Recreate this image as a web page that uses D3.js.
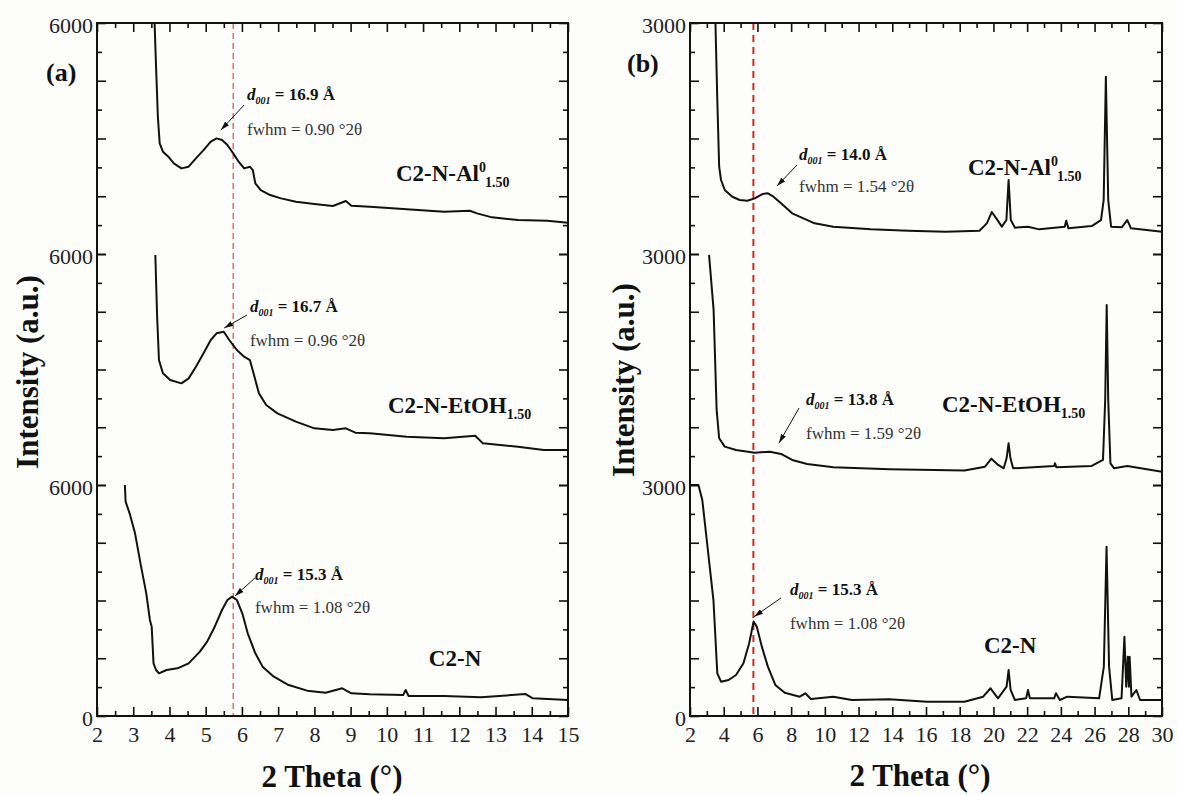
<!DOCTYPE html>
<html>
<head>
<meta charset="utf-8">
<script src="https://cdnjs.cloudflare.com/ajax/libs/d3/7.8.5/d3.min.js"></script>
<style>
  body { margin: 0; background: #fdfdfc; }
  svg { display: block; font-family: "Liberation Serif", "Times New Roman", serif; }
  .tick text { font-family: "Liberation Serif", "Times New Roman", serif; }
</style>
</head>
<body>
<svg id="chart" width="1177" height="795"></svg>
<script>
// XRD patterns, [2theta, intensity]

// panel (a), 2-15 deg, each trace on its own 0-6000 band
var aAl = [[3.56,6300],[3.59,5990],[3.63,4865],[3.68,3566],[3.73,2873],[3.82,2657],[3.97,2527],[4.12,2354],
  [4.33,2224],[4.53,2268],[4.73,2484],[4.94,2700],[5.14,2917],[5.30,3003],[5.45,2960],[5.60,2830],[5.76,2614],
  [5.91,2397],[6.06,2224],[6.22,2268],[6.30,2181],[6.37,1835],[6.52,1661],[6.78,1532],[7.08,1445],[7.49,1358],
  [8.00,1298],[8.51,1246],[8.87,1376],[9.02,1255],[9.53,1229],[10.55,1160],[11.58,1099],[12.29,1125],[12.49,1056],
  [12.90,952],[13.62,882],[14.43,865],[15.0,813]];
var aEtoh = [[3.61,5973],[3.66,4372],[3.71,3246],[3.82,2900],[4.02,2727],[4.33,2640],[4.53,2770],[4.73,3073],
  [4.94,3419],[5.14,3766],[5.30,3939],[5.50,3982],[5.65,3766],[5.86,3506],[6.06,3333],[6.22,3246],[6.32,2900],
  [6.47,2380],[6.67,2077],[6.98,1861],[7.49,1645],[8.00,1471],[8.51,1428],[8.87,1471],[9.13,1359],[9.53,1342],
  [10.55,1255],[11.58,1212],[12.44,1281],[12.65,1082],[13.62,995],[14.33,909],[15.0,909]];
var aC2n = [[2.77,6000],[2.79,5567],[2.90,5264],[3.05,4744],[3.20,3965],[3.36,3186],[3.46,2494],[3.51,2320],
  [3.56,1368],[3.63,1195],[3.71,1108],[3.92,1195],[4.22,1238],[4.53,1368],[4.84,1671],[5.04,1931],[5.25,2320],
  [5.45,2753],[5.60,3013],[5.73,3100],[5.86,3013],[6.01,2667],[6.16,2147],[6.37,1628],[6.57,1282],[6.88,1022],
  [7.29,805],[7.80,658],[8.31,606],[8.77,719],[9.02,589],[9.53,563],[10.45,546],[10.52,676],[10.60,520],
  [11.58,520],[12.60,485],[13.82,572],[14.03,459],[15.0,416]];

// panel (b), 2-30 deg, each trace on its own 0-3000 band
var bAl = [[3.48,3200],[3.51,2996],[3.62,1998],[3.73,1134],[3.84,961],[4.06,831],[4.51,744],[4.95,701],[5.40,692],
  [5.84,723],[6.29,779],[6.62,788],[6.95,744],[7.40,658],[8.06,528],[8.73,463],[9.39,398],[10.50,355],[12.73,320],
  [14.95,303],[17.17,290],[19.17,303],[19.61,398],[19.90,545],[20.17,463],[20.50,355],[20.77,441],[20.90,961],
  [21.03,441],[21.28,342],[22.05,355],[22.72,320],[24.23,355],[24.32,433],[24.45,333],[25.83,363],[26.38,441],
  [26.54,701],[26.67,2303],[26.81,701],[26.98,355],[27.61,346],[27.94,441],[28.16,333],[30,290]];
var bEtoh = [[3.13,2988],[3.40,2274],[3.58,975],[3.73,607],[4.06,498],[4.73,455],[5.84,420],[6.73,433],[7.40,403],
  [8.06,325],[8.95,273],[10.50,230],[13.84,204],[18.28,187],[19.50,238],[19.88,342],[20.28,260],[20.61,217],
  [20.78,347],[20.90,541],[21.01,347],[21.17,217],[23.61,247],[23.65,282],[23.74,230],[25.83,247],[26.50,325],
  [26.63,1104],[26.72,2339],[26.81,1104],[26.94,282],[27.16,217],[27.94,247],[30,173]];
var bC2n = [[2.0,3000],[2.5,3000],[2.73,2805],[3.06,2156],[3.39,1506],[3.62,554],[3.84,446],[4.29,468],[4.73,533],
  [5.17,684],[5.51,944],[5.77,1226],[5.96,1161],[6.26,901],[6.62,641],[7.06,403],[7.62,303],[8.51,251],[8.84,295],
  [9.17,221],[10.5,251],[11.61,208],[13.83,217],[16.06,186],[18.28,186],[19.39,251],[19.83,360],[20.27,230],
  [20.78,381],[20.9,597],[21.02,338],[21.27,208],[21.94,230],[22.05,338],[22.16,230],[23.6,230],[23.71,295],
  [23.94,208],[24.38,251],[26.27,230],[26.55,641],[26.71,2198],[26.86,641],[27.05,208],[27.6,230],[27.77,1030],
  [27.88,381],[27.97,770],[28.04,381],[28.08,770],[28.19,251],[28.48,338],[28.7,208],[30,208]];

// bottom to top
var sampleNames = ["C2-N", "C2-N-EtOH", "C2-N-Al"];
var sampleSup = ["", "", "0"];
var sampleSub = ["", "1.50", "1.50"];
var aD001 = ["15.3", "16.7", "16.9"];
var aFwhm = ["1.08", "0.96", "0.90"];
var bD001 = ["15.3", "13.8", "14.0"];
var bFwhm = ["1.08", "1.59", "1.54"];

var aXTicks = d3.range(2, 16, 1);
var bXTicks = d3.range(2, 31, 2);

var svg = d3.select("#chart");
var defs = svg.append("defs");
defs.append("marker").attr("id", "arrow")
    .attr("viewBox", "0 0 10 6").attr("refX", 10).attr("refY", 3)
    .attr("markerWidth", 9).attr("markerHeight", 5.4)
    .attr("markerUnits", "userSpaceOnUse").attr("orient", "auto")
  .append("path").attr("d", "M0,0L10,3L0,6Z").attr("fill", "#111");

var panels = [
  {
    id: "a", tag: "(a)", tagPos: [46, 81],
    left: 97, right: 568, top: 23, bottom: 716,
    xDomain: [2, 15], xMajor: aXTicks, xMinor: 0.5, yMax: 6000,
    series: [aC2n, aEtoh, aAl], d001: aD001, fwhm: aFwhm,
    dashAt: 5.76, dashColor: "#e66f60", dashArray: "6,4", dashWidth: 1.5,
    yTitle: [38, 372], xTitle: [332, 787],
    // label anchors in data units [2theta, intensity] for each band
    notes: [
      {d: [6.36, 3532], f: [6.36, 2675], arrow: [[6.36, 3584], [5.81, 3120]], name: [11.16, 1299]},
      {d: [6.22, 4493], f: [6.22, 3610], arrow: [[6.14, 4415], [5.51, 4077]], name: [10.03, 1870]},
      {d: [6.14, 4000], f: [6.14, 3090], arrow: [[6.06, 3870], [5.42, 3220]], name: [10.25, 1896]}
    ]
  },
  {
    id: "b", tag: "(b)", tagPos: [627, 72],
    left: 690, right: 1162, top: 23, bottom: 716,
    xDomain: [2, 30], xMajor: bXTicks, xMinor: 1, yMax: 3000,
    series: [bC2n, bEtoh, bAl], d001: bD001, fwhm: bFwhm,
    dashAt: 5.76, dashColor: "#d42a1e", dashArray: "7,5", dashWidth: 2,
    yTitle: [634, 380], xTitle: [920, 786],
    notes: [
      {d: [7.93, 1572], f: [7.93, 1130], arrow: [[7.40, 1533], [5.80, 1290]], name: [19.44, 818]},
      {d: [8.88, 1039], f: [8.88, 598], arrow: [[8.47, 1000], [7.28, 546]], name: [16.95, 948]},
      {d: [8.47, 1221], f: [8.47, 805], arrow: [[8.35, 1156], [7.16, 883]], name: [18.49, 1026]}
    ]
  }
];

panels.forEach(drawPanel);

function drawPanel(p) {
  var g = svg.append("g");
  var x = d3.scaleLinear().domain(p.xDomain).range([p.left, p.right]);
  var h = (p.bottom - p.top) / 3;
  var ys = [0, 1, 2].map(function(k) {
    return d3.scaleLinear().domain([0, p.yMax]).range([p.bottom - k * h, p.bottom - (k + 1) * h]);
  });

  defs.append("clipPath").attr("id", "clip" + p.id).append("rect")
      .attr("x", p.left).attr("y", p.top)
      .attr("width", p.right - p.left).attr("height", p.bottom - p.top);

  g.append("line")
      .attr("x1", x(p.dashAt)).attr("x2", x(p.dashAt))
      .attr("y1", p.top).attr("y2", p.bottom)
      .attr("stroke", p.dashColor).attr("stroke-width", p.dashWidth)
      .attr("stroke-dasharray", p.dashArray);

  p.series.forEach(function(s, k) {
    var line = d3.line()
        .x(function(d) { return x(d[0]); })
        .y(function(d) { return ys[k](d[1]); });
    g.append("path").datum(s)
        .attr("clip-path", "url(#clip" + p.id + ")")
        .attr("d", line)
        .attr("fill", "none")
        .attr("stroke", "#111")
        .attr("stroke-width", 2)
        .attr("stroke-linejoin", "round");
  });

  // axes, all ticks pointing inwards
  var minorX = d3.range(p.xDomain[0], p.xDomain[1] + 1e-9, p.xMinor)
      .filter(function(v) { return p.xMajor.indexOf(v) < 0; });

  var bx = g.append("g").attr("transform", "translate(0," + p.bottom + ")");
  bx.append("g").call(d3.axisBottom(x).tickValues(minorX).tickSize(-5).tickFormat(""));
  bx.append("g").call(d3.axisBottom(x).tickValues(p.xMajor).tickSize(-9).tickPadding(10).tickFormat(d3.format("d")));
  var tx = g.append("g").attr("transform", "translate(0," + p.top + ")");
  tx.append("g").call(d3.axisTop(x).tickValues(minorX).tickSize(-5).tickFormat(""));
  tx.append("g").call(d3.axisTop(x).tickValues(p.xMajor).tickSize(-9).tickFormat(""));

  var q = p.yMax / 8;
  ys.forEach(function(y, k) {
    var minorY = [1, 3, 5, 7].map(function(i) { return i * q; });
    var majorY = [0, 2, 4, 6, 8].map(function(i) { return i * q; });
    var fmt = function(d) { return d === p.yMax ? String(p.yMax) : (d === 0 && k === 0 ? "0" : ""); };
    var lx = g.append("g").attr("transform", "translate(" + p.left + ",0)");
    lx.append("g").call(d3.axisLeft(y).tickValues(minorY).tickSize(-5).tickFormat(""));
    lx.append("g").call(d3.axisLeft(y).tickValues(majorY).tickSize(-9).tickPadding(4).tickFormat(fmt))
      .selectAll("text").attr("dy", "0.45em");
    var rx = g.append("g").attr("transform", "translate(" + p.right + ",0)");
    rx.append("g").call(d3.axisRight(y).tickValues(minorY).tickSize(-5).tickFormat(""));
    rx.append("g").call(d3.axisRight(y).tickValues(majorY).tickSize(-9).tickFormat(""));
  });

  g.selectAll(".domain").remove();
  g.selectAll(".tick line").attr("stroke", "#111").attr("stroke-width", 1.6);
  g.selectAll(".tick text")
      .style("font-family", "'Liberation Serif', serif")
      .style("font-size", "22px")
      .attr("fill", "#222");

  g.append("rect")
      .attr("x", p.left).attr("y", p.top)
      .attr("width", p.right - p.left).attr("height", p.bottom - p.top)
      .attr("fill", "none").attr("stroke", "#111").attr("stroke-width", 2);

  // panel tag and axis titles
  g.append("text").attr("x", p.tagPos[0]).attr("y", p.tagPos[1])
      .attr("font-size", 26).attr("font-weight", "bold").attr("fill", "#111")
      .text(p.tag);

  g.append("text")
      .attr("transform", "translate(" + p.yTitle[0] + "," + p.yTitle[1] + ") rotate(-90)")
      .attr("text-anchor", "middle")
      .attr("font-size", 31).attr("font-weight", "bold").attr("fill", "#111")
      .text("Intensity (a.u.)");

  g.append("text")
      .attr("x", p.xTitle[0]).attr("y", p.xTitle[1])
      .attr("text-anchor", "middle")
      .attr("font-size", 31).attr("font-weight", "bold").attr("fill", "#111")
      .text("2 Theta (\u00b0)");

  // annotations for each band
  p.notes.forEach(function(n, k) {
    var y = ys[k];

    var dt = g.append("text")
        .attr("x", x(n.d[0])).attr("y", y(n.d[1]))
        .attr("font-size", 17).attr("font-weight", "bold").attr("fill", "#111");
    dt.append("tspan").attr("font-style", "italic").text("d");
    dt.append("tspan").attr("font-style", "italic").attr("font-size", 10).attr("dy", 4).text("001");
    dt.append("tspan").attr("dy", -4).text(" = " + p.d001[k] + " \u00c5");

    g.append("text")
        .attr("x", x(n.f[0])).attr("y", y(n.f[1]))
        .attr("font-size", 17).attr("fill", "#333")
        .text("fwhm = " + p.fwhm[k] + " \u00b02\u03b8");

    g.append("line")
        .attr("x1", x(n.arrow[0][0])).attr("y1", y(n.arrow[0][1]))
        .attr("x2", x(n.arrow[1][0])).attr("y2", y(n.arrow[1][1]))
        .attr("stroke", "#111").attr("stroke-width", 1)
        .attr("marker-end", "url(#arrow)");

    var nt = g.append("text")
        .attr("x", x(n.name[0])).attr("y", y(n.name[1]))
        .attr("font-size", 23).attr("font-weight", "bold").attr("fill", "#111");
    nt.append("tspan").text(sampleNames[k]);
    var shift = 0;
    if (sampleSup[k]) {
      nt.append("tspan").attr("font-size", 14).attr("dy", -9).text(sampleSup[k]);
      shift = -9;
    }
    if (sampleSub[k]) {
      nt.append("tspan").attr("font-size", 14).attr("dy", 6 - shift).attr("dx", shift ? -1 : 0).text(sampleSub[k]);
    }
  });
}
</script>
</body>
</html>
